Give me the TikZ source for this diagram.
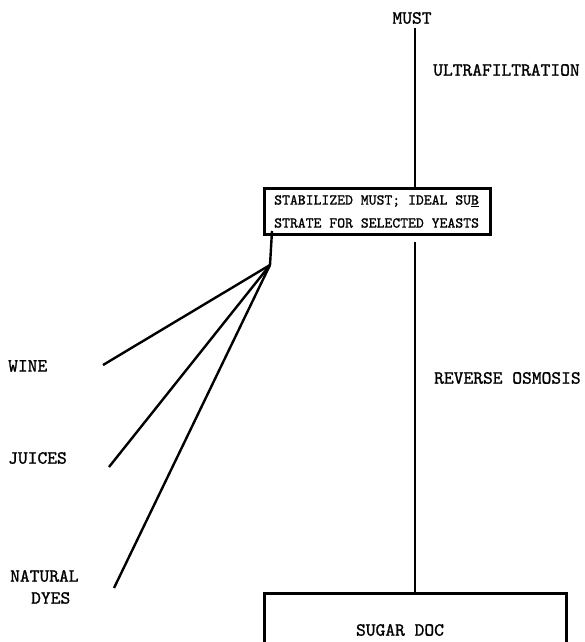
\documentclass[tikz,border=0pt]{standalone}
\usepackage{fontspec}
\newfontfamily\twfont{lmmono10-regular.otf}[FakeBold=1.2]
\begin{document}
\newcommand{\lblfont}{\fontsize{18.6}{21}\selectfont\twfont}
\newcommand{\boxfont}{\fontsize{15}{23}\selectfont\twfont}
\begin{tikzpicture}[x=1pt,y=-1pt,
  lbl/.style={inner sep=0pt, font=\lblfont, text=black},
  boxnode/.style={draw=black, line width=3pt, inner sep=0pt},
  flow/.style={draw=black, line width=2.8pt},
  feed/.style={draw=black, line width=2.4pt, line join=miter}]
\useasboundingbox (0,0) rectangle (584,642);
\clip (0,0) rectangle (584,642);
\coordinate (axis) at (415,0);
% labels
\node[lbl] (must) at (412,18) {MUST};
\node[lbl, anchor=west] (uf) at (433,70) {ULTRAFILTRATION};
\node[lbl, anchor=west] (ro) at (434,378) {REVERSE OSMOSIS};
\node[lbl, anchor=west] (wine) at (8,366) {WINE};
\node[lbl, anchor=west] (juices) at (8,458) {JUICES};
\node[lbl, anchor=west] (natural) at (10,576) {NATURAL};
\node[lbl, anchor=west] (dyes) at (31,598) {DYES};
% boxes
\node[boxnode, anchor=north west, minimum width=226pt, minimum height=46pt] (top) at (263,187) {};
\node[inner sep=0pt, anchor=west, align=left, font=\boxfont] (toptext) at ([xshift=11pt]top.west)
  {STABILIZED MUST; IDEAL SU\underline{B}\\STRATE FOR SELECTED YEASTS};
\node[boxnode, anchor=north west, minimum width=302pt, minimum height=70pt] (sugar) at (263,592) {};
\node[lbl] (sugtext) at (400,630) {SUGAR DOC};
% flow lines
\draw[flow] ([yshift=-4pt]must.south -| axis) -- (top.north -| axis);
\draw[flow, line width=2.3pt] (top.south -| axis) ++(0,6) -- (sugar.north -| axis);
% feed lines
\coordinate (hx) at (272,0);
\coordinate (j) at (270,265);
\coordinate (we) at (103,365);
\coordinate (je) at (109,467);
\coordinate (ne) at (114,588);
\draw[feed] ([yshift=5pt]top.south -| hx) -- (j);
\draw[feed] (j) -- (we);
\draw[feed] (j) -- (je);
\draw[feed] (j) -- (ne);
\end{tikzpicture}
\end{document}
